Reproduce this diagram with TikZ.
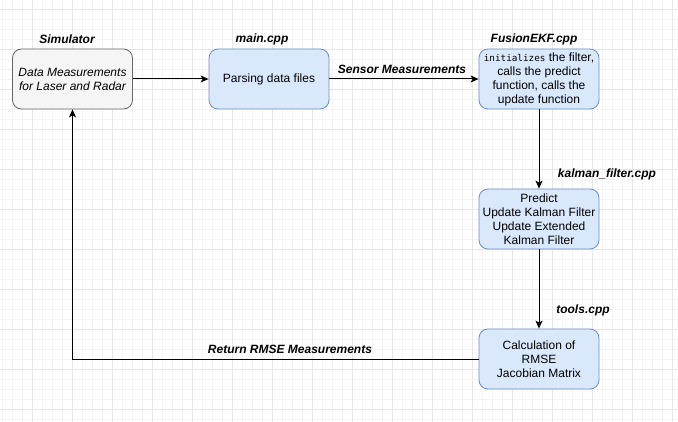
\documentclass[tikz,border=0pt]{standalone}
\usepackage{fontspec}
\setmainfont{Liberation Sans}
\newfontfamily\codefont{DejaVu Sans Mono}
\usetikzlibrary{arrows.meta}
\definecolor{gridminor}{HTML}{F4F4F4}
\definecolor{gridmajor}{HTML}{E6E6E6}
\definecolor{grayfill}{HTML}{F5F5F5}
\definecolor{grayline}{HTML}{666666}
\definecolor{bluefill}{HTML}{DAE8FC}
\definecolor{blueline}{HTML}{6C8EBF}
\tikzset{
  box/.style={draw, rounded corners=9pt, minimum width=120pt, minimum height=60pt,
    align=center, inner sep=0pt, line width=0.8pt,
    font=\fontsize{12}{14}\selectfont},
  graybox/.style={box, fill=grayfill, draw=grayline},
  bluebox/.style={box, fill=bluefill, draw=blueline},
  lbl/.style={font=\fontsize{12}{14}\selectfont\bfseries\itshape, inner sep=0pt},
  conn/.style={line width=1pt, -{Stealth[length=8pt,width=7pt,inset=2pt]}}
}
\begin{document}
\begin{tikzpicture}[x=1pt,y=-1pt]
\useasboundingbox (0,0) rectangle (678,422);
\fill[white] (0,0) rectangle (678,422);
% grid
\foreach \x in {2,12,...,678} \draw[gridminor, line width=0.8pt] (\x,0) -- (\x,422);
\foreach \y in {-1,9,...,422} \draw[gridminor, line width=0.8pt] (0,\y) -- (678,\y);
\foreach \x in {32,72,...,678} \draw[gridmajor, line width=0.8pt] (\x,0) -- (\x,422);
\foreach \y in {9,49,...,422} \draw[gridmajor, line width=0.8pt] (0,\y) -- (678,\y);

\node[graybox] (sim) at (72.5,79) {\itshape Data Measurements\\\itshape for Laser and Radar};
\node[bluebox] (parse) at (269,79) {Parsing data files};
\node[bluebox] (ekf) at (539,79) {{\codefont\fontsize{9.3}{14}\selectfont initializes} the filter,\\calls the predict\\function, calls the\\update function};
\node[bluebox] (kf) at (539,219) {Predict\\Update Kalman Filter\\Update Extended\\Kalman Filter};
\node[bluebox] (tools) at (539,359) {Calculation of\\RMSE\\Jacobian Matrix};

\node[lbl] (lsim) at (67,39) {Simulator};
\node[lbl] (lmain) at (262,39) {main.cpp};
\node[lbl] (lekf) at (534,39) {FusionEKF.cpp};
\node[lbl] (lsens) at (402,69) {Sensor Measurements};
\node[lbl] (lkf) at (607,174) {kalman\_filter.cpp};
\node[lbl] (ltools) at (583,310) {tools.cpp};
\node[lbl] (lret) at (290,349) {Return RMSE Measurements};

\coordinate (corner) at (72.5,359);
\draw[conn] (sim) -- (parse);
\draw[conn] (parse) -- (ekf);
\draw[conn] (ekf) -- (kf);
\draw[conn] (kf) -- (tools);
\draw[conn] (tools.west) -- (corner) -- (sim.south);
\end{tikzpicture}
\end{document}
